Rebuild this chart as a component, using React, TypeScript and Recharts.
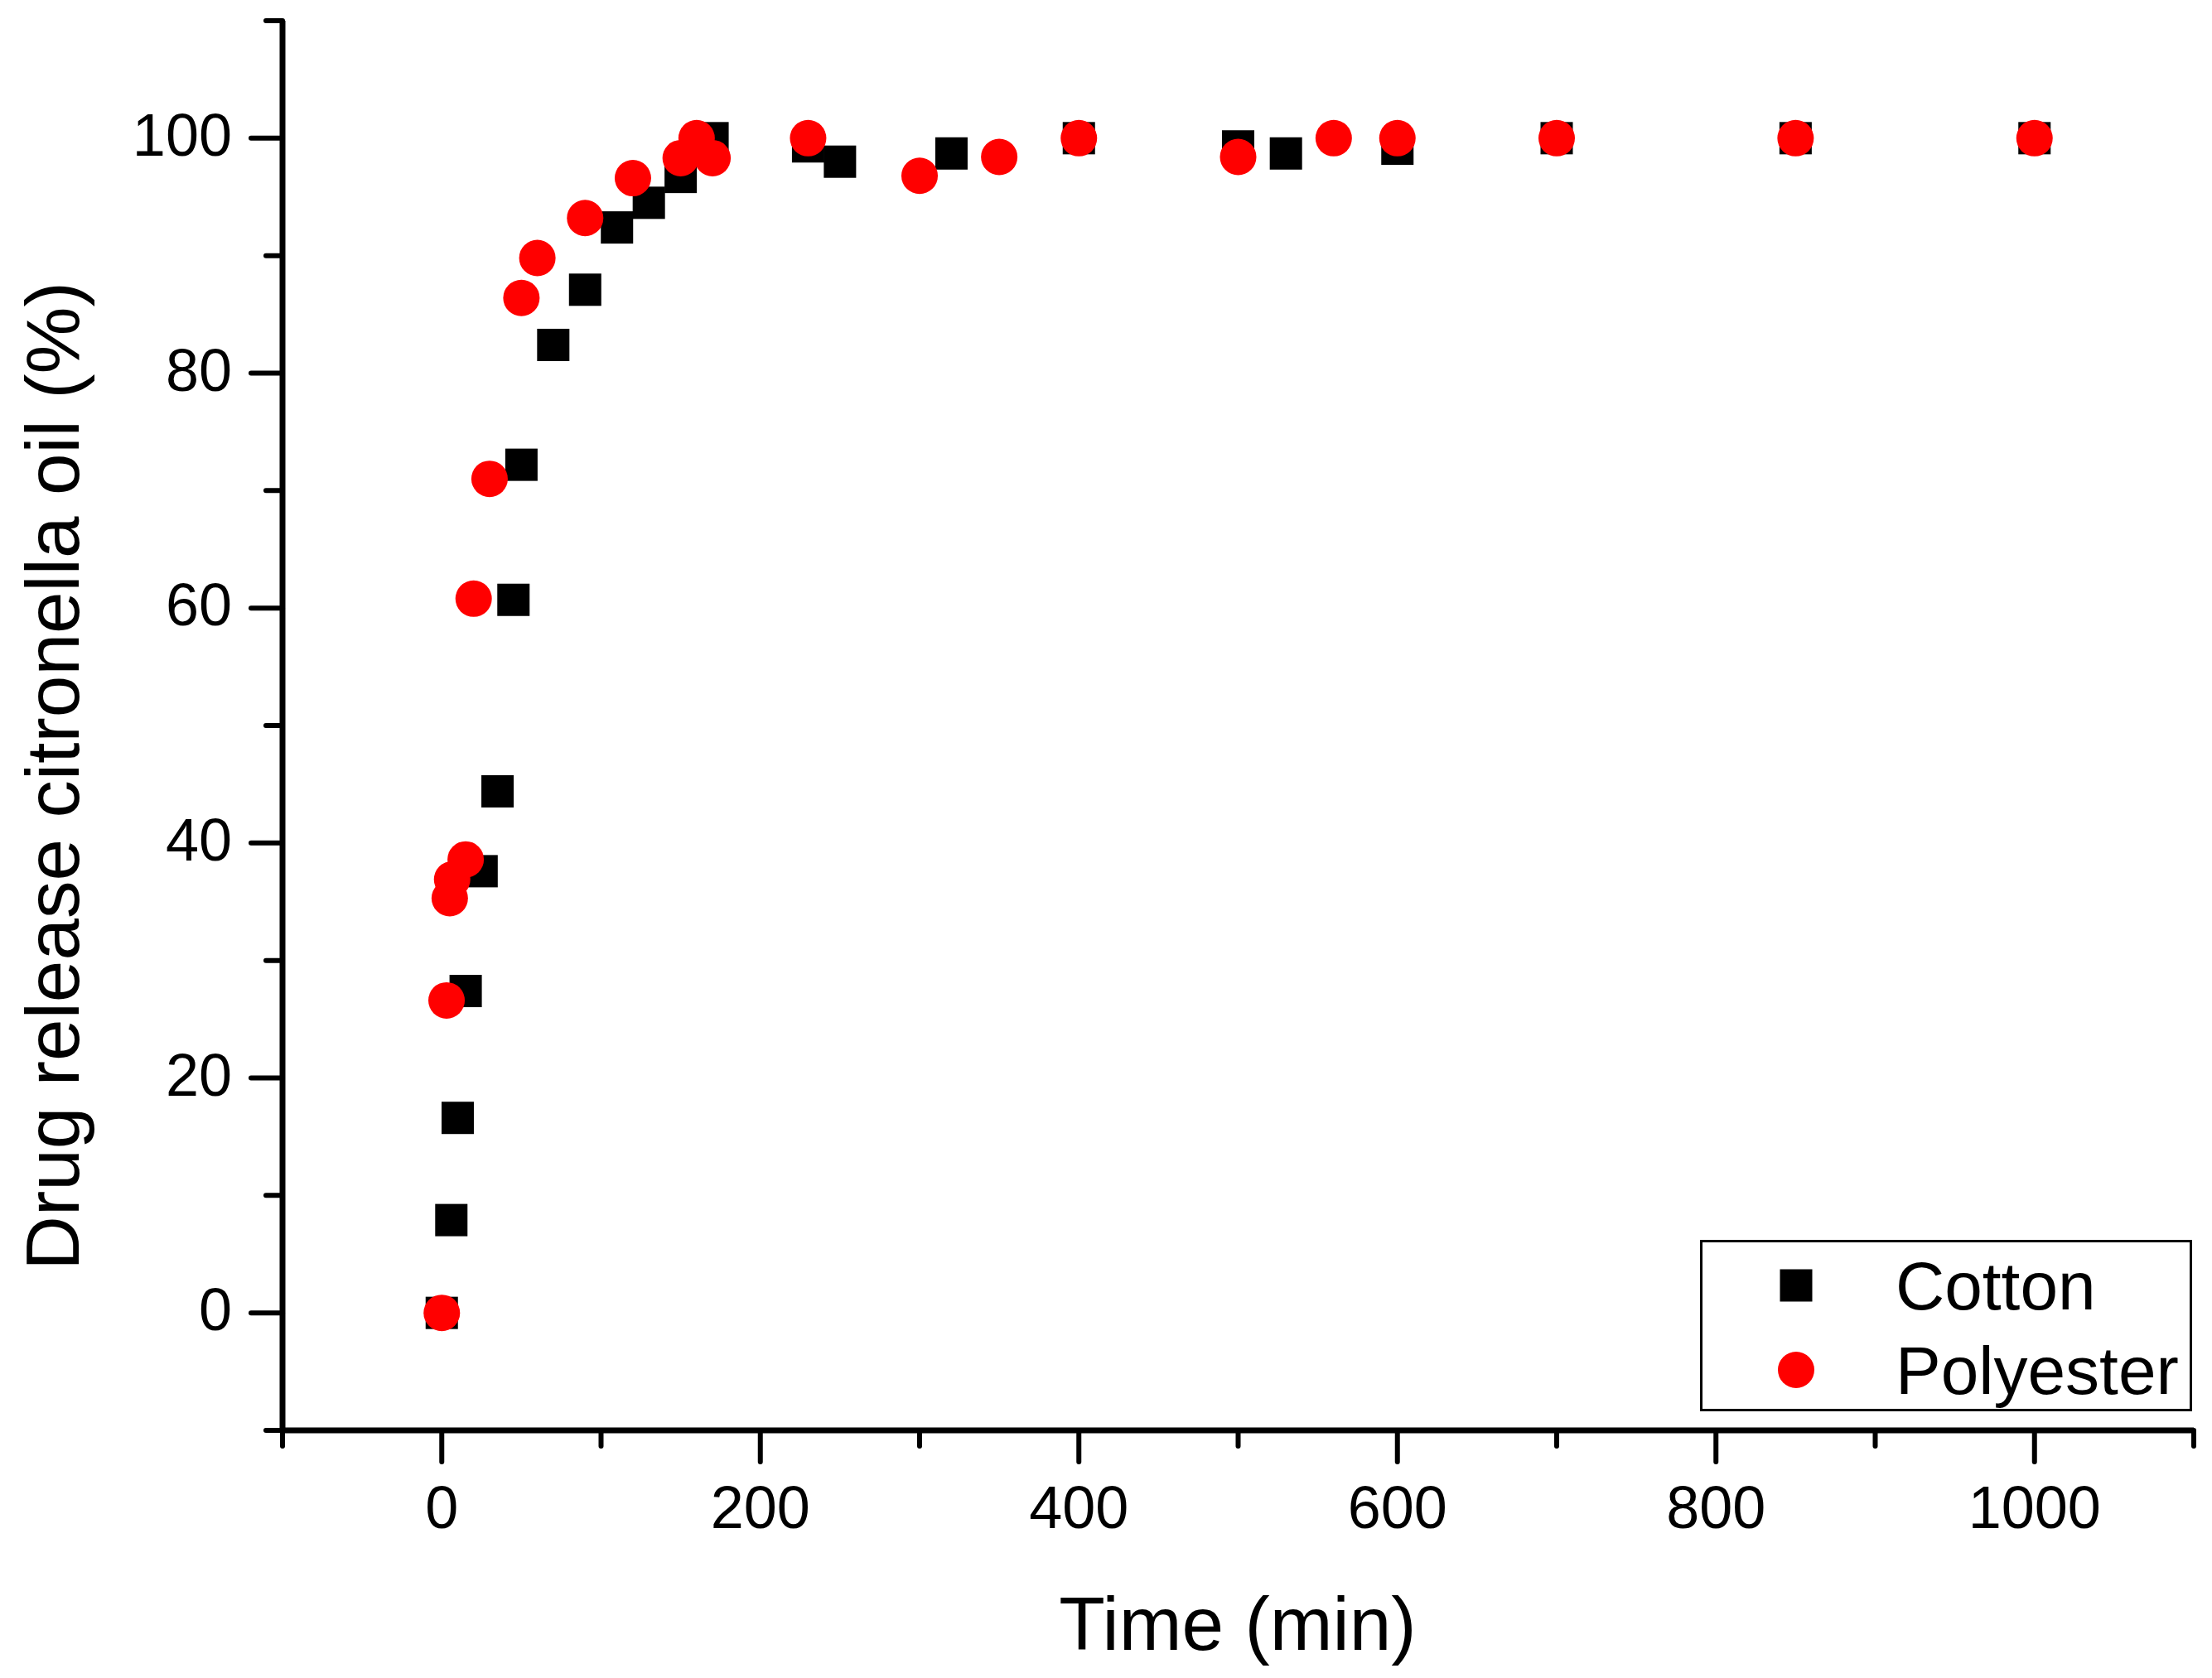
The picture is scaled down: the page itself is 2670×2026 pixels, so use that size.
import { ScatterChart, XAxis, YAxis, Scatter, Legend, Label } from "recharts";

const cottonTime = [0, 6, 10, 15, 25, 35, 45, 50, 70, 90, 110, 130, 150, 170, 230, 250, 320, 400, 500, 530, 600, 700, 850, 1000];
const cottonRelease = [0, 7.9, 16.6, 27.4, 37.6, 44.4, 60.7, 72.2, 82.4, 87.1, 92.4, 94.5, 96.7, 100, 99.3, 98.0, 98.7, 100, 99.3, 98.7, 99.1, 100, 100, 100];

const polyesterTime = [0, 3, 5, 6.5, 15, 20, 30, 50, 60, 90, 120, 150, 160, 170, 230, 300, 350, 400, 500, 560, 600, 700, 850, 1000];
const polyesterRelease = [0, 26.6, 35.3, 36.9, 38.6, 60.8, 71, 86.4, 89.8, 93.2, 96.6, 98.3, 100, 98.3, 100, 96.8, 98.4, 100, 98.4, 100, 100, 100, 100, 100];

const xTicks = [-100, 0, 100, 200, 300, 400, 500, 600, 700, 800, 900, 1000, 1100];
const yTicks = [-10, 0, 10, 20, 30, 40, 50, 60, 70, 80, 90, 100, 110];

const seriesNames = ["Cotton", "Polyester"];

const cotton = cottonTime.map((x, i) => ({ x, y: cottonRelease[i] }));
const polyester = polyesterTime.map((x, i) => ({ x, y: polyesterRelease[i] }));

const FONT = "'Liberation Sans', Arial, Helvetica, sans-serif";

function XTick(props: any) {
  const { x, y, payload } = props;
  const major = payload.value % 200 === 0;
  return (
    <g>
      <line x1={x} x2={x} y1={y} y2={y + (major ? 38 : 19)} stroke="#000" strokeWidth={6} strokeLinecap="round" />
      {major && (
        <text x={x} y={y + 118} textAnchor="middle" fontSize={72} fontFamily={FONT} fill="#000">
          {payload.value}
        </text>
      )}
    </g>
  );
}

function YTick(props: any) {
  const { x, y, payload } = props;
  const major = payload.value % 20 === 0;
  return (
    <g>
      <line x1={x - (major ? 38 : 20)} x2={x} y1={y} y2={y} stroke="#000" strokeWidth={6} strokeLinecap="round" />
      {major && (
        <text x={x - 61} y={y + 21} textAnchor="end" fontSize={72} fontFamily={FONT} fill="#000">
          {payload.value}
        </text>
      )}
    </g>
  );
}

function SquareDot(props: any) {
  const { cx, cy } = props;
  return <rect x={cx - 19.5} y={cy - 19.5} width={39} height={39} fill="#000" />;
}

function RoundDot(props: any) {
  const { cx, cy } = props;
  return <circle cx={cx} cy={cy} r={22} fill="#ff0000" />;
}

function LegendBox(props: any) {
  const payload = props.payload || [];
  return (
    <svg width={594} height={207} style={{ display: "block" }}>
      <rect x={1.5} y={1.5} width={591} height={204} fill="#fff" stroke="#000" strokeWidth={3} />
      {payload.map((entry: any, i: number) => {
        const cy = 55 + i * 102;
        return (
          <g key={entry.value}>
            {i === 0 ? (
              <rect x={116 - 19.5} y={cy - 19.5} width={39} height={39} fill="#000" />
            ) : (
              <circle cx={116} cy={cy} r={22} fill="#ff0000" />
            )}
            <text x={236} y={cy + 29} fontSize={82} fontFamily={FONT} fill="#000">
              {entry.value}
            </text>
          </g>
        );
      })}
    </svg>
  );
}

export default function App() {
  return (
    <div style={{ position: "absolute", left: 0, top: 0, width: 2670, height: 2026, background: "#fff" }}>
      <ScatterChart width={2670} height={2026} margin={{ top: 25, right: 22, left: 0, bottom: 0 }}>
        <XAxis
          type="number"
          dataKey="x"
          domain={[-100, 1100]}
          ticks={xTicks}
          interval={0}
          height={299}
          tickSize={0}
          tickMargin={0}
          tickLine={false}
          axisLine={{ stroke: "#000", strokeWidth: 7 }}
          tick={<XTick />}
        >
          <Label
            content={() => (
              <text x={1494} y={1992} textAnchor="middle" fontSize={91} fontFamily={FONT} fill="#000">
                Time (min)
              </text>
            )}
          />
        </XAxis>
        <YAxis
          type="number"
          dataKey="y"
          domain={[-10, 110]}
          ticks={yTicks}
          interval={0}
          width={341}
          tickSize={0}
          tickMargin={0}
          tickLine={false}
          axisLine={{ stroke: "#000", strokeWidth: 7 }}
          tick={<YTick />}
        >
          <Label
            content={() => (
              <text
                x={95}
                y={937}
                transform="rotate(-90 95 937)"
                textAnchor="middle"
                fontSize={91}
                fontFamily={FONT}
                fill="#000"
              >
                Drug release citronella oil (%)
              </text>
            )}
          />
        </YAxis>
        <Legend
          layout="vertical"
          verticalAlign="middle"
          align="center"
          content={<LegendBox />}
          wrapperStyle={{ left: 2052, top: 1497, width: 594, height: 207 }}
        />
        <Scatter name={seriesNames[0]} data={cotton} fill="#000" shape={<SquareDot />} isAnimationActive={false} />
        <Scatter name={seriesNames[1]} data={polyester} fill="#ff0000" shape={<RoundDot />} isAnimationActive={false} />
      </ScatterChart>
    </div>
  );
}
